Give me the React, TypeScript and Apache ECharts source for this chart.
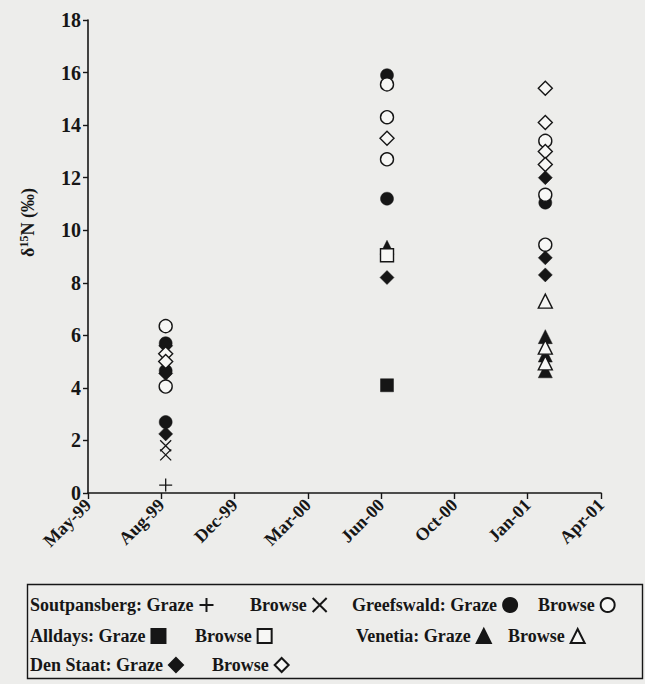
import React, { useEffect, useRef } from "react";
import * as echarts from "echarts";

// Tick labels of the date axis (evenly spaced major units)
const xTickLabels = ["May-99", "Aug-99", "Dec-99", "Mar-00", "Jun-00", "Oct-00", "Jan-01", "Apr-01"];
// Axis position (in tick units) of the three sampling trips
const tripPos = [1.06, 4.08, 6.24];
const yTicks = [0, 2, 4, 6, 8, 10, 12, 14, 16, 18];

// [trip index, δ15N value]
const soutpansbergGraze = [[0, 0.3]];
const soutpansbergBrowse = [[0, 1.8], [0, 1.45]];
const greefswaldGraze = [[0, 5.7], [0, 4.65], [0, 2.7], [1, 15.9], [1, 11.2], [2, 11.05]];
const greefswaldBrowse = [[0, 6.35], [0, 4.05], [1, 15.55], [1, 14.3], [1, 12.7], [2, 13.4], [2, 11.35], [2, 9.45]];
const alldaysGraze = [[1, 4.1]];
const alldaysBrowse = [[1, 9.05]];
const denStaatGraze = [[0, 5.6], [0, 4.55], [0, 2.25], [1, 8.2], [2, 12.0], [2, 8.95], [2, 8.3]];
const denStaatBrowse = [[0, 5.3], [0, 5.0], [1, 13.5], [2, 15.4], [2, 14.1], [2, 13.0], [2, 12.5]];
const venetiaGraze = [[1, 9.35], [2, 5.95], [2, 5.25], [2, 4.65]];
const venetiaBrowse = [[2, 7.3], [2, 5.55], [2, 4.95]];

const INK = "#161616";
const PAPER = "#ededeb";
const OPEN = "#f7f7f5";
const FONT = "'Liberation Serif', 'Times New Roman', serif";

const PLUS = "path://M0,6 L12,6 M6,0 L6,12";
const CROSS = "path://M0,0 L12,12 M12,0 L0,12";

type Def = {
  name: string;
  label: string;
  data: number[][];
  symbol: string;
  size: number;
  filled: boolean;
  stroke?: boolean;
  left: number;
  top: number;
};

const defs: Def[] = [
  { name: "Soutpansberg Graze", label: "Soutpansberg: Graze", data: soutpansbergGraze, symbol: PLUS, size: 13, filled: false, stroke: true, left: 30, top: 596 },
  { name: "Soutpansberg Browse", label: "Browse", data: soutpansbergBrowse, symbol: CROSS, size: 11, filled: false, stroke: true, left: 250, top: 596 },
  { name: "Greefswald Graze", label: "Greefswald: Graze", data: greefswaldGraze, symbol: "circle", size: 13, filled: true, left: 352, top: 596 },
  { name: "Alldays Graze", label: "Alldays: Graze", data: alldaysGraze, symbol: "rect", size: 13, filled: true, left: 30, top: 627 },
  { name: "Den Staat Graze", label: "Den Staat: Graze", data: denStaatGraze, symbol: "diamond", size: 14, filled: true, left: 30, top: 656 },
  { name: "Venetia Graze", label: "Venetia: Graze", data: venetiaGraze, symbol: "triangle", size: 14, filled: true, left: 356, top: 627 },
  { name: "Greefswald Browse", label: "Browse", data: greefswaldBrowse, symbol: "circle", size: 13, filled: false, left: 538, top: 596 },
  { name: "Alldays Browse", label: "Browse", data: alldaysBrowse, symbol: "rect", size: 13, filled: false, left: 195, top: 627 },
  { name: "Den Staat Browse", label: "Browse", data: denStaatBrowse, symbol: "diamond", size: 14, filled: false, left: 212, top: 656 },
  { name: "Venetia Browse", label: "Browse", data: venetiaBrowse, symbol: "triangle", size: 14, filled: false, left: 508, top: 627 },
];

export default function App() {
  const ref = useRef<HTMLDivElement>(null);

  useEffect(() => {
    if (!ref.current) return;
    const chart = echarts.init(ref.current, null, { renderer: "svg" });

    const series = defs.map((d) => ({
      name: d.name,
      type: "scatter",
      symbol: d.symbol,
      symbolSize: d.size,
      data: d.data.map(([t, v]) => [tripPos[t], v]),
      itemStyle: d.stroke
        ? { color: "transparent", borderColor: INK, borderWidth: 1.3, opacity: 1 }
        : d.filled
        ? { color: INK, borderColor: INK, borderWidth: 0.5, opacity: 1 }
        : { color: OPEN, borderColor: INK, borderWidth: 1.4, opacity: 1 },
      emphasis: { disabled: true },
    }));

    const legends = defs.map((d) => ({
      data: [d.name],
      left: d.left,
      top: d.top,
      align: "right",
      padding: 0,
      itemWidth: 14,
      itemHeight: 14,
      itemGap: 0,
      selectedMode: false,
      formatter: () => d.label,
      textStyle: { fontFamily: FONT, fontWeight: "bold", fontSize: 18, color: INK, padding: [0, 1, 0, 0] },
    }));

    chart.setOption({
      animation: false,
      backgroundColor: PAPER,
      grid: { left: 88, right: 44, top: 20, bottom: 191, containLabel: false },
      xAxis: {
        type: "value",
        min: 0,
        max: xTickLabels.length - 1,
        interval: 1,
        axisLine: { lineStyle: { color: INK, width: 1.6 } },
        axisTick: { show: true, length: 6, lineStyle: { color: INK, width: 1.4 } },
        splitLine: { show: false },
        axisLabel: {
          rotate: 45,
          margin: 9,
          fontFamily: FONT,
          fontWeight: "bold",
          fontSize: 18,
          color: INK,
          formatter: (v: number) => xTickLabels[Math.round(v)] ?? "",
        },
      },
      yAxis: {
        type: "value",
        min: yTicks[0],
        max: yTicks[yTicks.length - 1],
        interval: 2,
        name: "δ{sup|15}N (‰)",
        nameLocation: "middle",
        nameGap: 50,
        nameRotate: 90,
        nameTextStyle: {
          fontFamily: FONT,
          fontWeight: "bold",
          fontSize: 18,
          color: INK,
          padding: [0, 0, 0, 68],
          rich: {
            sup: { fontFamily: FONT, fontWeight: "bold", fontSize: 12, color: INK, verticalAlign: "top", padding: [0, 0, 8, 0] },
          },
        },
        axisLine: { show: true, lineStyle: { color: INK, width: 1.6 } },
        axisTick: { show: true, length: 5, lineStyle: { color: INK, width: 1.4 } },
        splitLine: { show: false },
        axisLabel: {
          margin: 7,
          fontFamily: FONT,
          fontWeight: "bold",
          fontSize: 20,
          color: INK,
        },
      },
      legend: legends,
      graphic: [
        {
          type: "rect",
          left: 25,
          top: 582,
          shape: { width: 615, height: 94 },
          style: { fill: "none", stroke: INK, lineWidth: 1.4 },
          silent: true,
        },
      ],
      series,
    });

    return () => chart.dispose();
  }, []);

  return (
    <div
      ref={ref}
      style={{ position: "fixed", left: 0, top: 0, width: 645, height: 684, background: PAPER }}
    />
  );
}
